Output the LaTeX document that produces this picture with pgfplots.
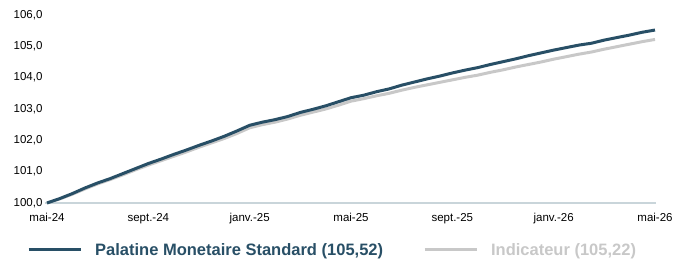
\documentclass[border=0pt]{standalone}
\usepackage{pgfplots}
\pgfplotsset{compat=1.18}
\usepackage{fontspec}
\setmainfont{Liberation Sans}
\definecolor{mainblue}{HTML}{284F66}
\definecolor{idxgrey}{HTML}{C8C8C8}
\definecolor{basegrey}{HTML}{C9D5DA}
\begin{document}
\begin{tikzpicture}[x=1pt,y=1pt]
\useasboundingbox (0,0) rectangle (675,267);
\begin{axis}[
  at={(47pt,64pt)}, anchor=south west,
  scale only axis, width=608pt, height=188pt,
  xmin=0, xmax=24, ymin=100, ymax=106,
  axis line style={draw=none},
  clip=false,
  xtick={0,4,8,12,16,20,24},
  xticklabels={mai-24,sept.-24,janv.-25,mai-25,sept.-25,janv.-26,mai-26},
  ytick={100,101,102,103,104,105,106},
  major tick length=0pt,
  tick label style={font=\fontsize{11.5}{13}\selectfont, text=black},
  xticklabel style={yshift=-7pt},
  yticklabel style={xshift=-1pt},
  /pgf/number format/.cd, fixed, fixed zerofill, precision=1, use comma, assume math mode=true,
  /pgfplots/.cd,
  legend style={at={(-20pt,-47pt)}, anchor=west, draw=none, fill=none,
    legend columns=2, font=\fontsize{16.5}{19}\selectfont\bfseries,
    /tikz/every odd column/.append style={column sep=11pt},
    /tikz/every even column/.append style={column sep=38pt},
    inner sep=0pt, nodes={inner sep=2pt}},
  legend cell align=left,
  legend image code/.code={\draw[#1] (0pt,0pt) -- (52pt,0pt);},
]
\draw[basegrey, line width=1.6pt] (axis cs:-0.08,100) -- (axis cs:24.05,100);
\addplot[idxgrey, line width=3pt, line join=round, forget plot] coordinates {
(0,100.00)(0.5,100.13)(1,100.28)(1.5,100.45)(2,100.61)(2.5,100.75)(3,100.90)(3.5,101.06)
(4,101.21)(4.5,101.35)(5,101.49)(5.5,101.63)(6,101.78)(6.5,101.92)(7,102.06)(7.5,102.22)
(8,102.40)(8.5,102.50)(9,102.58)(9.5,102.68)(10,102.80)(10.5,102.90)(11,103.00)(11.5,103.12)
(12,103.25)(12.5,103.33)(13,103.42)(13.5,103.50)(14,103.60)(14.5,103.69)(15,103.77)(15.5,103.85)
(16,103.93)(16.5,104.01)(17,104.08)(17.5,104.17)(18,104.25)(18.5,104.34)(19,104.42)(19.5,104.50)
(20,104.59)(20.5,104.67)(21,104.75)(21.5,104.82)(22,104.91)(22.5,104.99)(23,105.07)(23.5,105.15)
(24,105.22)};
\addplot[mainblue, line width=3pt, line join=round] coordinates {
(0,100.00)(0.5,100.14)(1,100.30)(1.5,100.48)(2,100.64)(2.5,100.78)(3,100.94)(3.5,101.10)
(4,101.26)(4.5,101.40)(5,101.55)(5.5,101.69)(6,101.84)(6.5,101.98)(7,102.13)(7.5,102.30)
(8,102.48)(8.5,102.58)(9,102.66)(9.5,102.76)(10,102.89)(10.5,102.99)(11,103.10)(11.5,103.23)
(12,103.36)(12.5,103.44)(13,103.55)(13.5,103.64)(14,103.76)(14.5,103.86)(15,103.96)(15.5,104.05)
(16,104.15)(16.5,104.24)(17,104.32)(17.5,104.42)(18,104.51)(18.5,104.60)(19,104.70)(19.5,104.79)
(20,104.88)(20.5,104.96)(21,105.04)(21.5,105.10)(22,105.20)(22.5,105.28)(23,105.36)(23.5,105.45)
(24,105.52)};
\addlegendentry{\textcolor{mainblue}{Palatine Monetaire Standard (105,52)}}
\addlegendimage{idxgrey, line width=3pt}
\addlegendentry{\textcolor{idxgrey}{Indicateur (105,22)}}
\end{axis}
\end{tikzpicture}
\end{document}
